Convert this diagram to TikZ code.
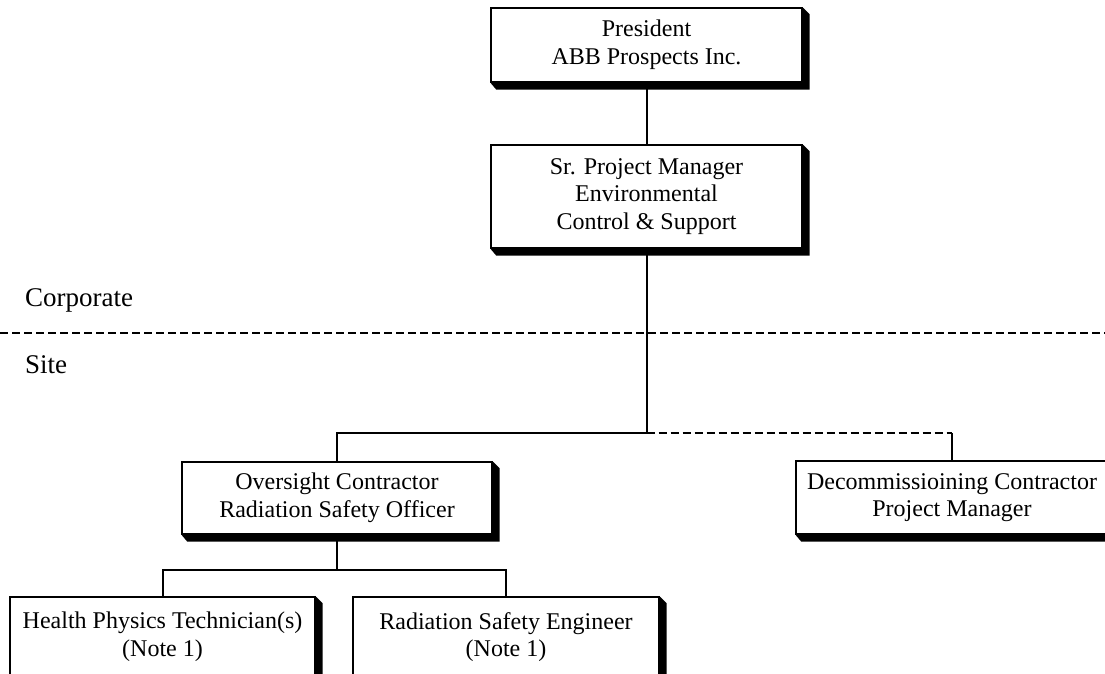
\documentclass[tikz,border=0pt]{standalone}
\usepackage{fontspec}
\setmainfont{Liberation Serif}
\usetikzlibrary{calc}
\begin{document}
\begin{tikzpicture}[x=1pt,y=1pt,
  orgbox/.style={draw, line width=2.4pt, fill=white, align=center, inner sep=0pt,
    font=\fontsize{24}{27.6}\selectfont},
  conn/.style={line width=2pt},
  dashconn/.style={line width=2pt, dash pattern=on 8pt off 4pt},
  sidelabel/.style={font=\fontsize{27}{31}\selectfont, anchor=base west, inner sep=0pt}]
\useasboundingbox (0,0) rectangle (1105,674);
\clip (0,0) rectangle (1105,674);
% boxes
\node[orgbox, minimum width=311pt, minimum height=74pt] (pres) at (646.5,629) {President\\ABB Prospects Inc.};
\node[orgbox, minimum width=311pt, minimum height=103pt] (spm) at (646.5,477.5) {Sr. Project Manager\\Environmental\\Control \& Support};
\node[orgbox, minimum width=310pt, minimum height=72pt] (osc) at (337,176) {Oversight Contractor\\Radiation Safety Officer};
\node[orgbox, minimum width=312pt, minimum height=73pt] (dec) at (952,176.5) {Decommissioining Contractor\\Project Manager};
\node[orgbox, minimum width=305pt, minimum height=80pt] (hpt) at (162.5,37) {Health Physics Technician(s)\\(Note 1)};
\node[orgbox, minimum width=306pt, minimum height=80pt] (rse) at (506,37) {Radiation Safety Engineer\\(Note 1)};
% shadows
\foreach \n in {pres,spm,osc,dec,hpt,rse}{
  \fill ($(\n.north east)+(0,-1pt)$) -- ++(6.5pt,-6.5pt) -- ($(\n.south east)+(6.5pt,-6.5pt)$)
     -- ($(\n.south west)+(6.5pt,-6.5pt)$) -- ($(\n.south west)+(1pt,0)$) -- (\n.south east) -- cycle;
}
% divider
\coordinate (dl) at (0,341);
\coordinate (dr) at (1105,341);
\draw[dashconn] (dl) -- (dr);
\node[sidelabel] (corp) at (25,367) {Corporate};
\node[sidelabel] (site) at (25,300) {Site};
% connectors
\coordinate (j1) at (646.5,241);
\coordinate (j2) at (337,104);
\draw[conn] (pres.south) -- (spm.north);
\draw[conn] (spm.south) -- (j1);
\draw[conn] (j1) -| (osc.north);
\draw[dashconn] (j1) -- (j1 -| dec.north);
\draw[conn] (j1 -| dec.north) -- (dec.north);
\draw[conn] (osc.south) -- (j2);
\draw[conn] (hpt.north) |- (j2) -| (rse.north);
\end{tikzpicture}
\end{document}
